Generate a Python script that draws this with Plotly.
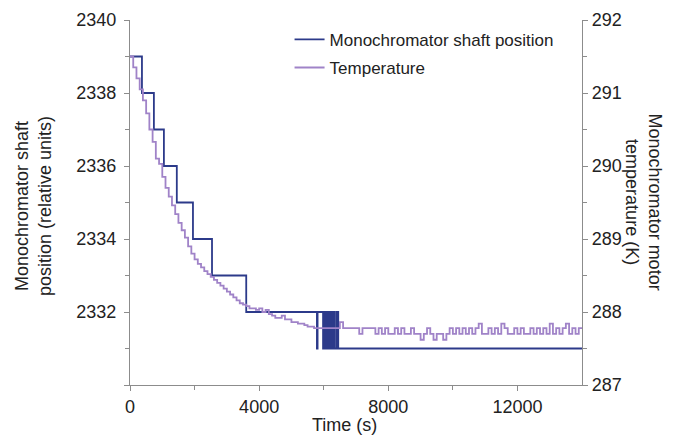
import plotly.graph_objects as go

# ---- data ----
shaft_time = [0, 370, 740, 1050, 1450, 1950, 2540, 3600, 5790, 5810,
              5980, 6000, 6020, 6040, 6060, 6080, 6100, 6120, 6140, 6160,
              6180, 6200, 6220, 6240, 6260, 6280, 6300, 6320, 6340,
              6400, 6410, 6440, 6450, 14000]
shaft_pos = [2339, 2338, 2337, 2336, 2335, 2334, 2333, 2332, 2331, 2332,
             2331, 2332, 2331, 2332, 2331, 2332, 2331, 2332, 2331, 2332,
             2331, 2332, 2331, 2332, 2331, 2332, 2331, 2332, 2331,
             2332, 2331, 2332, 2331, 2331]

temp_time = list(range(0, 14001, 100))
temp_K = [
    291.50, 291.35, 291.20, 291.05, 290.90, 290.72, 290.50, 290.33, 290.10, 290.03,
    289.85, 289.70, 289.58, 289.46, 289.34, 289.22, 289.12, 289.02, 288.90, 288.80,
    288.72, 288.66, 288.61, 288.56, 288.52, 288.48, 288.44, 288.40, 288.36, 288.32,
    288.28, 288.24, 288.20, 288.16, 288.12, 288.10, 288.08, 288.05, 288.05, 288.03,
    288.05, 288.00, 288.03, 287.97, 287.95, 287.92, 287.92, 287.95, 287.90, 287.90,
    287.86, 287.86, 287.84, 287.84, 287.82, 287.80, 287.80, 287.78, 287.78, 287.78,
    287.78, 287.78, 287.78, 287.78, 287.78, 287.86, 287.78, 287.78, 287.78, 287.78,
    287.78, 287.70, 287.78, 287.78, 287.78, 287.78, 287.70, 287.78, 287.70, 287.78,
    287.70, 287.70, 287.78, 287.70, 287.78, 287.70, 287.70, 287.78, 287.70, 287.70,
    287.62, 287.70, 287.78, 287.70, 287.62, 287.70, 287.70, 287.62, 287.70, 287.78,
    287.70, 287.78, 287.70, 287.78, 287.70, 287.78, 287.70, 287.78, 287.84, 287.70,
    287.70, 287.78, 287.70, 287.78, 287.70, 287.84, 287.78, 287.70, 287.70, 287.78,
    287.70, 287.78, 287.70, 287.70, 287.78, 287.70, 287.78, 287.70, 287.78, 287.70,
    287.84, 287.70, 287.78, 287.70, 287.78, 287.84, 287.70, 287.78, 287.70, 287.78,
    287.78,
]

x_ticks = [0, 4000, 8000, 12000]
x_ticktext = ["0", "4000", "8000", "12000"]
x_minor = [2000, 6000, 10000]
y_ticks = [2330, 2332, 2334, 2336, 2338, 2340]
y_ticktext = ["", "2332", "2334", "2336", "2338", "2340"]
y_minor = [2331, 2333, 2335, 2337, 2339]
y2_ticks = [287, 288, 289, 290, 291, 292]
y2_ticktext = ["287", "288", "289", "290", "291", "292"]
y2_minor = [287.5, 288.5, 289.5, 290.5, 291.5]

SHAFT_COLOR = "#2c3a8a"
TEMP_COLOR = "#a083c8"
AXIS_COLOR = "#8c8c8c"
FONT = "Liberation Sans, Arial, sans-serif"

fig = go.Figure()
fig.add_trace(go.Scatter(
    x=shaft_time, y=shaft_pos, mode="lines", line_shape="hv",
    line=dict(color=SHAFT_COLOR, width=1.8),
    name="Monochromator shaft position", legendgroup="a"))
fig.add_trace(go.Scatter(
    x=temp_time, y=temp_K, mode="lines", line_shape="hv",
    line=dict(color=TEMP_COLOR, width=1.8),
    name="Temperature", yaxis="y2", legendgroup="b"))

axis_common = dict(
    showline=True, linecolor=AXIS_COLOR, linewidth=1.2,
    ticks="outside", ticklen=5, tickcolor=AXIS_COLOR, tickwidth=1.2,
    showgrid=False, zeroline=False, automargin=False,
    tickfont=dict(family=FONT, size=18, color="#222"),
)

# page body has an 8px margin: the figure is shrunk by that amount
fig.update_layout(
    width=672, height=431,
    margin=dict(l=122, r=98, t=12, b=54),
    paper_bgcolor="white", plot_bgcolor="white",
    font=dict(family=FONT, size=18, color="#222"),
    xaxis=dict(range=[0, 14000], tickmode="array", tickvals=x_ticks,
               ticktext=x_ticktext,
               minor=dict(tickmode="array", tickvals=x_minor, ticks="outside",
                          ticklen=4, tickcolor=AXIS_COLOR),
               **axis_common),
    yaxis=dict(range=[2330, 2340], tickmode="array", tickvals=y_ticks,
               ticktext=y_ticktext, ticklabelstandoff=4,
               minor=dict(tickmode="array", tickvals=y_minor, ticks="outside",
                          ticklen=4, tickcolor=AXIS_COLOR),
               **axis_common),
    yaxis2=dict(range=[287, 292], overlaying="y", side="right",
                tickmode="array", tickvals=y2_ticks, ticktext=y2_ticktext,
                minor=dict(tickmode="array", tickvals=y2_minor, ticks="outside",
                           ticklen=4, tickcolor=AXIS_COLOR),
                **axis_common),
    showlegend=True,
    legend=dict(x=0.353, y=0.995, xanchor="left", yanchor="top",
                bgcolor="rgba(0,0,0,0)", traceorder="grouped",
                tracegroupgap=3, font=dict(family=FONT, size=17, color="#222")),
)

fig.add_annotation(text="Monochromator shaft<br>position (relative units)",
                   xref="paper", yref="paper", x=-0.215, y=0.49,
                   xanchor="center", yanchor="middle", textangle=-90,
                   showarrow=False, font=dict(family=FONT, size=18, color="#222"))
fig.add_annotation(text="Monochromator motor<br>temperature (K)",
                   xref="paper", yref="paper", x=1.137, y=0.5,
                   xanchor="center", yanchor="middle", textangle=90,
                   showarrow=False, font=dict(family=FONT, size=18, color="#222"))
fig.add_annotation(text="Time (s)", xref="paper", yref="paper",
                   x=0.475, y=-0.11, xanchor="center", yanchor="middle",
                   showarrow=False, font=dict(family=FONT, size=18, color="#222"))

fig.write_html("out.html")
